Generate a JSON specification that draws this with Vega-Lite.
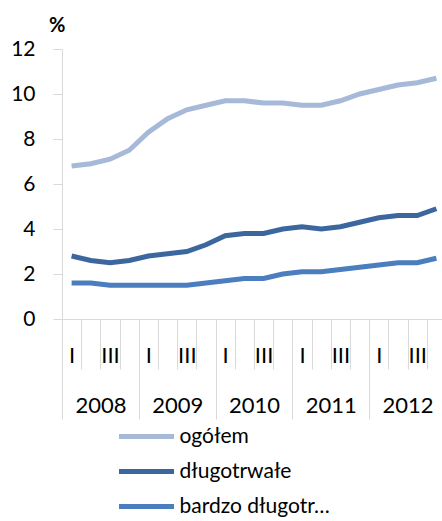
{
  "$schema": "https://vega.github.io/schema/vega-lite/v6.json",
  "width": 384,
  "height": 270,
  "padding": {"left": 10, "top": 16, "right": 0, "bottom": 5},
  "background": "white",
  "config": {"font": "Lato", "view": {"stroke": null}},
  "title": {"text": "%", "anchor": "start", "frame": "group", "dx": -13, "offset": 2, "fontSize": 20, "fontWeight": "bold", "color": "#000000"},
  "layer": [
    {
      "data": {"values": [{"year": "2008"}, {"year": "2009"}, {"year": "2010"}, {"year": "2011"}, {"year": "2012"}]},
      "mark": {"type": "text", "text": ""},
      "encoding": {
        "x": {
          "field": "year",
          "type": "nominal",
          "sort": null,
          "scale": {"type": "band", "paddingInner": 0, "paddingOuter": 0},
          "axis": {
            "orient": "bottom",
            "title": null,
            "domain": false,
            "tickBand": "extent",
            "tickSize": 100,
            "tickColor": "#d9d9d9",
            "labelAngle": 0,
            "labelFontSize": 22,
            "labelColor": "#000000",
            "labelPadding": -24
          }
        }
      }
    },
    {
      "data": {"values": [
        {"q": "I", "series": "ogółem", "value": 6.8},
        {"q": "\u200b", "series": "ogółem", "value": 6.9},
        {"q": "III", "series": "ogółem", "value": 7.1},
        {"q": "\u200b\u200b", "series": "ogółem", "value": 7.5},
        {"q": "I\u200b", "series": "ogółem", "value": 8.3},
        {"q": "\u200b\u200b\u200b", "series": "ogółem", "value": 8.9},
        {"q": "III\u200b", "series": "ogółem", "value": 9.3},
        {"q": "\u200b\u200b\u200b\u200b", "series": "ogółem", "value": 9.5},
        {"q": "I\u200b\u200b", "series": "ogółem", "value": 9.7},
        {"q": "\u200b\u200b\u200b\u200b\u200b", "series": "ogółem", "value": 9.7},
        {"q": "III\u200b\u200b", "series": "ogółem", "value": 9.6},
        {"q": "\u200b\u200b\u200b\u200b\u200b\u200b", "series": "ogółem", "value": 9.6},
        {"q": "I\u200b\u200b\u200b", "series": "ogółem", "value": 9.5},
        {"q": "\u200b\u200b\u200b\u200b\u200b\u200b\u200b", "series": "ogółem", "value": 9.5},
        {"q": "III\u200b\u200b\u200b", "series": "ogółem", "value": 9.7},
        {"q": "\u200b\u200b\u200b\u200b\u200b\u200b\u200b\u200b", "series": "ogółem", "value": 10.0},
        {"q": "I\u200b\u200b\u200b\u200b", "series": "ogółem", "value": 10.2},
        {"q": "\u200b\u200b\u200b\u200b\u200b\u200b\u200b\u200b\u200b", "series": "ogółem", "value": 10.4},
        {"q": "III\u200b\u200b\u200b\u200b", "series": "ogółem", "value": 10.5},
        {"q": "\u200b\u200b\u200b\u200b\u200b\u200b\u200b\u200b\u200b\u200b", "series": "ogółem", "value": 10.7},
        {"q": "I", "series": "długotrwałe", "value": 2.8},
        {"q": "\u200b", "series": "długotrwałe", "value": 2.6},
        {"q": "III", "series": "długotrwałe", "value": 2.5},
        {"q": "\u200b\u200b", "series": "długotrwałe", "value": 2.6},
        {"q": "I\u200b", "series": "długotrwałe", "value": 2.8},
        {"q": "\u200b\u200b\u200b", "series": "długotrwałe", "value": 2.9},
        {"q": "III\u200b", "series": "długotrwałe", "value": 3.0},
        {"q": "\u200b\u200b\u200b\u200b", "series": "długotrwałe", "value": 3.3},
        {"q": "I\u200b\u200b", "series": "długotrwałe", "value": 3.7},
        {"q": "\u200b\u200b\u200b\u200b\u200b", "series": "długotrwałe", "value": 3.8},
        {"q": "III\u200b\u200b", "series": "długotrwałe", "value": 3.8},
        {"q": "\u200b\u200b\u200b\u200b\u200b\u200b", "series": "długotrwałe", "value": 4.0},
        {"q": "I\u200b\u200b\u200b", "series": "długotrwałe", "value": 4.1},
        {"q": "\u200b\u200b\u200b\u200b\u200b\u200b\u200b", "series": "długotrwałe", "value": 4.0},
        {"q": "III\u200b\u200b\u200b", "series": "długotrwałe", "value": 4.1},
        {"q": "\u200b\u200b\u200b\u200b\u200b\u200b\u200b\u200b", "series": "długotrwałe", "value": 4.3},
        {"q": "I\u200b\u200b\u200b\u200b", "series": "długotrwałe", "value": 4.5},
        {"q": "\u200b\u200b\u200b\u200b\u200b\u200b\u200b\u200b\u200b", "series": "długotrwałe", "value": 4.6},
        {"q": "III\u200b\u200b\u200b\u200b", "series": "długotrwałe", "value": 4.6},
        {"q": "\u200b\u200b\u200b\u200b\u200b\u200b\u200b\u200b\u200b\u200b", "series": "długotrwałe", "value": 4.9},
        {"q": "I", "series": "bardzo długotrwałe", "value": 1.6},
        {"q": "\u200b", "series": "bardzo długotrwałe", "value": 1.6},
        {"q": "III", "series": "bardzo długotrwałe", "value": 1.5},
        {"q": "\u200b\u200b", "series": "bardzo długotrwałe", "value": 1.5},
        {"q": "I\u200b", "series": "bardzo długotrwałe", "value": 1.5},
        {"q": "\u200b\u200b\u200b", "series": "bardzo długotrwałe", "value": 1.5},
        {"q": "III\u200b", "series": "bardzo długotrwałe", "value": 1.5},
        {"q": "\u200b\u200b\u200b\u200b", "series": "bardzo długotrwałe", "value": 1.6},
        {"q": "I\u200b\u200b", "series": "bardzo długotrwałe", "value": 1.7},
        {"q": "\u200b\u200b\u200b\u200b\u200b", "series": "bardzo długotrwałe", "value": 1.8},
        {"q": "III\u200b\u200b", "series": "bardzo długotrwałe", "value": 1.8},
        {"q": "\u200b\u200b\u200b\u200b\u200b\u200b", "series": "bardzo długotrwałe", "value": 2.0},
        {"q": "I\u200b\u200b\u200b", "series": "bardzo długotrwałe", "value": 2.1},
        {"q": "\u200b\u200b\u200b\u200b\u200b\u200b\u200b", "series": "bardzo długotrwałe", "value": 2.1},
        {"q": "III\u200b\u200b\u200b", "series": "bardzo długotrwałe", "value": 2.2},
        {"q": "\u200b\u200b\u200b\u200b\u200b\u200b\u200b\u200b", "series": "bardzo długotrwałe", "value": 2.3},
        {"q": "I\u200b\u200b\u200b\u200b", "series": "bardzo długotrwałe", "value": 2.4},
        {"q": "\u200b\u200b\u200b\u200b\u200b\u200b\u200b\u200b\u200b", "series": "bardzo długotrwałe", "value": 2.5},
        {"q": "III\u200b\u200b\u200b\u200b", "series": "bardzo długotrwałe", "value": 2.5},
        {"q": "\u200b\u200b\u200b\u200b\u200b\u200b\u200b\u200b\u200b\u200b", "series": "bardzo długotrwałe", "value": 2.7}
      ]},
      "mark": {"type": "line", "strokeWidth": 5},
      "encoding": {
        "x": {
          "field": "q",
          "type": "nominal",
          "sort": null,
          "scale": {"type": "band", "paddingInner": 0, "paddingOuter": 0},
          "axis": {
            "orient": "bottom",
            "title": null,
            "domainColor": "#d9d9d9",
            "tickBand": "extent",
            "tickSize": 50,
            "tickColor": "#d9d9d9",
            "labelAngle": 0,
            "labelFontSize": 22,
            "labelColor": "#000000",
            "labelPadding": -24
          }
        },
        "y": {
          "field": "value",
          "type": "quantitative",
          "scale": {"domain": [0, 12], "nice": false},
          "axis": {
            "values": [0, 2, 4, 6, 8, 10, 12],
            "grid": false,
            "domainColor": "#d9d9d9",
            "tickSize": 9,
            "tickColor": "#d9d9d9",
            "labelFontSize": 21,
            "labelColor": "#000000",
            "labelPadding": 18,
            "title": null
          }
        },
        "color": {
          "field": "series",
          "type": "nominal",
          "scale": {
            "domain": ["ogółem", "długotrwałe", "bardzo długotrwałe"],
            "range": ["#a6b9d8", "#3b679e", "#4a7ebe"]
          },
          "legend": {
            "orient": "none",
            "legendX": 72,
            "legendY": 375,
            "title": null,
            "symbolType": "M-2.75,0H2.75",
            "symbolSize": 400,
            "symbolStrokeWidth": 5,
            "labelFontSize": 21,
            "labelColor": "#000000",
            "labelOffset": 20.5,
            "rowPadding": 12
          }
        }
      }
    }
  ],
  "resolve": {"scale": {"x": "independent"}, "axis": {"x": "independent"}}
}
